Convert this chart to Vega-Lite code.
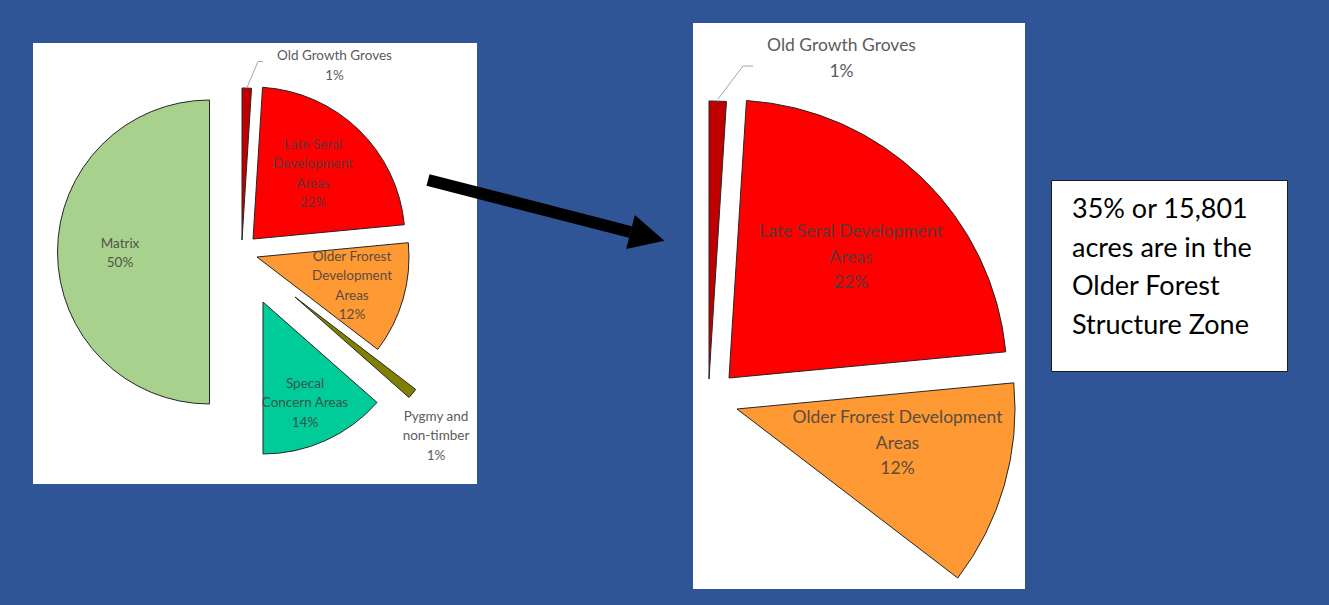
{
  "$schema": "https://vega.github.io/schema/vega-lite/v6.json",
  "background": "#2F5597",
  "padding": {"left": 33, "top": 23, "right": 41, "bottom": 16},
  "autosize": {"type": "pad"},
  "config": {"view": {"stroke": null}, "text": {"font": "Lato"}},
  "datasets": {
    "slices": [
      {"name": "Old Growth Groves", "ord": 1, "pct": 1.0, "lab": "Old Growth Groves\n1%", "labMid": "Old Growth Groves\n1%"},
      {"name": "Late Seral Development Areas", "ord": 2, "pct": 22.5, "lab": "Late Seral\nDevelopment\nAreas\n22%", "labMid": "Late Seral Development\nAreas\n22%"},
      {"name": "Older Forest Development Areas", "ord": 3, "pct": 11.9, "lab": "Older Frorest\nDevelopment\nAreas\n12%", "labMid": "Older Frorest Development\nAreas\n12%"},
      {"name": "Pygmy and non-timber", "ord": 4, "pct": 1.1, "lab": "Pygmy and\nnon-timber\n1%", "labMid": ""},
      {"name": "Special Concern Areas", "ord": 5, "pct": 13.5, "lab": "Specal\nConcern Areas\n14%", "labMid": ""},
      {"name": "Matrix", "ord": 6, "pct": 50.0, "lab": "Matrix\n50%", "labMid": ""}
    ]
  },
  "align": "none",
  "bounds": "full",
  "spacing": -55,
  "hconcat": [
    {
      "align": "none", "bounds": "flush", "spacing": 0,
      "vconcat": [
        {"width": 444, "height": 20, "data": {"values": []}, "mark": "rect", "encoding": {}},
        {
          "width": 444, "height": 441,
          "view": {"fill": "white", "stroke": null},
          "data": {"name": "slices"},
          "layer": [
            {"transform": [{"stack": "pct", "groupby": [], "sort": [{"field": "ord", "order": "ascending"}], "as": ["a0", "a1"]}, {"filter": "datum.name === 'Old Growth Groves'"}],
             "mark": {"type": "arc", "radius": 152, "xOffset": -13, "yOffset": -23.5, "stroke": "#262626", "strokeWidth": 1},
             "encoding": {"theta": {"field": "a0", "type": "quantitative", "scale": {"domain": [0, 100]}}, "theta2": {"field": "a1"},
               "color": {"field": "name", "type": "nominal", "scale": {"domain": ["Old Growth Groves", "Late Seral Development Areas", "Older Forest Development Areas", "Pygmy and non-timber", "Special Concern Areas", "Matrix"], "range": ["#C00000", "#FF0000", "#FF9933", "#808000", "#00CC99", "#A9D18E"]}, "legend": null}}},
            {"transform": [{"stack": "pct", "groupby": [], "sort": [{"field": "ord", "order": "ascending"}], "as": ["a0", "a1"]}, {"filter": "datum.name === 'Late Seral Development Areas'"}],
             "mark": {"type": "arc", "radius": 152, "xOffset": -2, "yOffset": -24.5, "stroke": "#262626", "strokeWidth": 1},
             "encoding": {"theta": {"field": "a0", "type": "quantitative", "scale": {"domain": [0, 100]}}, "theta2": {"field": "a1"},
               "color": {"field": "name", "type": "nominal", "scale": {"domain": ["Old Growth Groves", "Late Seral Development Areas", "Older Forest Development Areas", "Pygmy and non-timber", "Special Concern Areas", "Matrix"], "range": ["#C00000", "#FF0000", "#FF9933", "#808000", "#00CC99", "#A9D18E"]}, "legend": null}}},
            {"transform": [{"stack": "pct", "groupby": [], "sort": [{"field": "ord", "order": "ascending"}], "as": ["a0", "a1"]}, {"filter": "datum.name === 'Older Forest Development Areas'"}],
             "mark": {"type": "arc", "radius": 152, "xOffset": 2, "yOffset": -6.5, "stroke": "#262626", "strokeWidth": 1},
             "encoding": {"theta": {"field": "a0", "type": "quantitative", "scale": {"domain": [0, 100]}}, "theta2": {"field": "a1"},
               "color": {"field": "name", "type": "nominal", "scale": {"domain": ["Old Growth Groves", "Late Seral Development Areas", "Older Forest Development Areas", "Pygmy and non-timber", "Special Concern Areas", "Matrix"], "range": ["#C00000", "#FF0000", "#FF9933", "#808000", "#00CC99", "#A9D18E"]}, "legend": null}}},
            {"transform": [{"stack": "pct", "groupby": [], "sort": [{"field": "ord", "order": "ascending"}], "as": ["a0", "a1"]}, {"filter": "datum.name === 'Pygmy and non-timber'"}],
             "mark": {"type": "arc", "radius": 152, "xOffset": 40, "yOffset": 33.5, "stroke": "#262626", "strokeWidth": 1},
             "encoding": {"theta": {"field": "a0", "type": "quantitative", "scale": {"domain": [0, 100]}}, "theta2": {"field": "a1"},
               "color": {"field": "name", "type": "nominal", "scale": {"domain": ["Old Growth Groves", "Late Seral Development Areas", "Older Forest Development Areas", "Pygmy and non-timber", "Special Concern Areas", "Matrix"], "range": ["#C00000", "#FF0000", "#FF9933", "#808000", "#00CC99", "#A9D18E"]}, "legend": null}}},
            {"transform": [{"stack": "pct", "groupby": [], "sort": [{"field": "ord", "order": "ascending"}], "as": ["a0", "a1"]}, {"filter": "datum.name === 'Special Concern Areas'"}],
             "mark": {"type": "arc", "radius": 152, "xOffset": 8, "yOffset": 38.5, "stroke": "#262626", "strokeWidth": 1},
             "encoding": {"theta": {"field": "a0", "type": "quantitative", "scale": {"domain": [0, 100]}}, "theta2": {"field": "a1"},
               "color": {"field": "name", "type": "nominal", "scale": {"domain": ["Old Growth Groves", "Late Seral Development Areas", "Older Forest Development Areas", "Pygmy and non-timber", "Special Concern Areas", "Matrix"], "range": ["#C00000", "#FF0000", "#FF9933", "#808000", "#00CC99", "#A9D18E"]}, "legend": null}}},
            {"transform": [{"stack": "pct", "groupby": [], "sort": [{"field": "ord", "order": "ascending"}], "as": ["a0", "a1"]}, {"filter": "datum.name === 'Matrix'"}],
             "mark": {"type": "arc", "radius": 152, "xOffset": -45.5, "yOffset": -11.5, "stroke": "#262626", "strokeWidth": 1},
             "encoding": {"theta": {"field": "a0", "type": "quantitative", "scale": {"domain": [0, 100]}}, "theta2": {"field": "a1"},
               "color": {"field": "name", "type": "nominal", "scale": {"domain": ["Old Growth Groves", "Late Seral Development Areas", "Older Forest Development Areas", "Pygmy and non-timber", "Special Concern Areas", "Matrix"], "range": ["#C00000", "#FF0000", "#FF9933", "#808000", "#00CC99", "#A9D18E"]}, "legend": null}}},
            {"transform": [{"filter": "datum.name === 'Old Growth Groves'"}],
             "mark": {"type": "point", "shape": "M0,0L11,-26L16,-26", "size": 4, "filled": false, "stroke": "#A6A6A6", "strokeWidth": 1, "opacity": 1, "xOffset": -8, "yOffset": -176},
             "encoding": {}},
            {"transform": [{"filter": "datum.name === 'Old Growth Groves'"}],
             "mark": {"type": "text", "dx": 79.5, "dy": -207.5, "fontSize": 13.5, "lineHeight": 19.5, "lineBreak": "\n", "color": "#404040", "opacity": 0.85, "align": "center", "baseline": "middle"},
             "encoding": {"text": {"field": "lab"}}},
            {"transform": [{"filter": "datum.name === 'Late Seral Development Areas'"}],
             "mark": {"type": "text", "dx": 58, "dy": -119, "fontSize": 13.5, "lineHeight": 19.5, "lineBreak": "\n", "color": "#404040", "opacity": 0.85, "align": "center", "baseline": "middle"},
             "encoding": {"text": {"field": "lab"}}},
            {"transform": [{"filter": "datum.name === 'Older Forest Development Areas'"}],
             "mark": {"type": "text", "dx": 97, "dy": -7, "fontSize": 13.5, "lineHeight": 19.5, "lineBreak": "\n", "color": "#404040", "opacity": 0.85, "align": "center", "baseline": "middle"},
             "encoding": {"text": {"field": "lab"}}},
            {"transform": [{"filter": "datum.name === 'Pygmy and non-timber'"}],
             "mark": {"type": "text", "dx": 181, "dy": 153, "fontSize": 13.5, "lineHeight": 19.5, "lineBreak": "\n", "color": "#404040", "opacity": 0.85, "align": "center", "baseline": "middle"},
             "encoding": {"text": {"field": "lab"}}},
            {"transform": [{"filter": "datum.name === 'Special Concern Areas'"}],
             "mark": {"type": "text", "dx": 50, "dy": 120, "fontSize": 13.5, "lineHeight": 19.5, "lineBreak": "\n", "color": "#404040", "opacity": 0.85, "align": "center", "baseline": "middle"},
             "encoding": {"text": {"field": "lab"}}},
            {"transform": [{"filter": "datum.name === 'Matrix'"}],
             "mark": {"type": "text", "dx": -135, "dy": -20, "fontSize": 13.5, "lineHeight": 19.5, "lineBreak": "\n", "color": "#404040", "opacity": 0.85, "align": "center", "baseline": "middle"},
             "encoding": {"text": {"field": "lab"}}}
          ]
        }
      ]
    },
    {
      "align": "none", "bounds": "flush", "spacing": 0,
      "vconcat": [
        {"width": 250, "height": 157, "data": {"values": []}, "mark": "rect", "encoding": {}},
        {
          "width": 202.5, "height": 52,
          "data": {"values": [{"arrow": "zoom to Older Forest Structure Zone"}]},
          "layer": [
            {"mark": {"type": "rule", "color": "black", "strokeWidth": 12, "strokeCap": "butt"},
             "encoding": {"x": {"value": 0}, "x2": {"value": "width"}, "y": {"value": 0}, "y2": {"value": "height"}}},
            {"mark": {"type": "point", "shape": "M0,-1L2,0L0,1Z", "size": 1225, "filled": true, "color": "black", "opacity": 1, "angle": 14.4},
             "encoding": {"x": {"value": "width"}, "y": {"value": "height"}}}
          ]
        }
      ]
    },
    {"width": 125, "height": 10, "data": {"values": []}, "mark": "rect", "encoding": {}},
    {
      "width": 332, "height": 566,
      "view": {"fill": "white", "stroke": null},
      "data": {"name": "slices"},
      "layer": [
        {"transform": [{"stack": "pct", "groupby": [], "sort": [{"field": "ord", "order": "ascending"}], "as": ["a0", "a1"]}, {"filter": "datum.name === 'Old Growth Groves'"}],
         "mark": {"type": "arc", "radius": 278, "xOffset": -150, "yOffset": 73, "stroke": "#262626", "strokeWidth": 1},
         "encoding": {"theta": {"field": "a0", "type": "quantitative", "scale": {"domain": [0, 100]}}, "theta2": {"field": "a1"},
           "color": {"field": "name", "type": "nominal", "scale": {"domain": ["Old Growth Groves", "Late Seral Development Areas", "Older Forest Development Areas", "Pygmy and non-timber", "Special Concern Areas", "Matrix"], "range": ["#C00000", "#FF0000", "#FF9933", "#808000", "#00CC99", "#A9D18E"]}, "legend": null}}},
        {"transform": [{"stack": "pct", "groupby": [], "sort": [{"field": "ord", "order": "ascending"}], "as": ["a0", "a1"]}, {"filter": "datum.name === 'Late Seral Development Areas'"}],
         "mark": {"type": "arc", "radius": 278, "xOffset": -130, "yOffset": 72, "stroke": "#262626", "strokeWidth": 1},
         "encoding": {"theta": {"field": "a0", "type": "quantitative", "scale": {"domain": [0, 100]}}, "theta2": {"field": "a1"},
           "color": {"field": "name", "type": "nominal", "scale": {"domain": ["Old Growth Groves", "Late Seral Development Areas", "Older Forest Development Areas", "Pygmy and non-timber", "Special Concern Areas", "Matrix"], "range": ["#C00000", "#FF0000", "#FF9933", "#808000", "#00CC99", "#A9D18E"]}, "legend": null}}},
        {"transform": [{"stack": "pct", "groupby": [], "sort": [{"field": "ord", "order": "ascending"}], "as": ["a0", "a1"]}, {"filter": "datum.name === 'Older Forest Development Areas'"}],
         "mark": {"type": "arc", "radius": 278, "xOffset": -122, "yOffset": 103, "stroke": "#262626", "strokeWidth": 1},
         "encoding": {"theta": {"field": "a0", "type": "quantitative", "scale": {"domain": [0, 100]}}, "theta2": {"field": "a1"},
           "color": {"field": "name", "type": "nominal", "scale": {"domain": ["Old Growth Groves", "Late Seral Development Areas", "Older Forest Development Areas", "Pygmy and non-timber", "Special Concern Areas", "Matrix"], "range": ["#C00000", "#FF0000", "#FF9933", "#808000", "#00CC99", "#A9D18E"]}, "legend": null}}},
        {"transform": [{"filter": "datum.name === 'Old Growth Groves'"}],
         "mark": {"type": "point", "shape": "M0,0L25,-33L35,-33", "size": 4, "filled": false, "stroke": "#A6A6A6", "strokeWidth": 1, "opacity": 1, "xOffset": -141, "yOffset": -207},
         "encoding": {}},
        {"transform": [{"filter": "datum.name === 'Old Growth Groves'"}],
         "mark": {"type": "text", "dx": -17.5, "dy": -260, "fontSize": 17.5, "lineHeight": 25.5, "lineBreak": "\n", "color": "#404040", "opacity": 0.85, "align": "center", "baseline": "middle"},
         "encoding": {"text": {"field": "labMid"}}},
        {"transform": [{"filter": "datum.name === 'Late Seral Development Areas'"}],
         "mark": {"type": "text", "dx": -8, "dy": -74, "fontSize": 17.5, "lineHeight": 25.5, "lineBreak": "\n", "color": "#404040", "opacity": 0.85, "align": "center", "baseline": "middle"},
         "encoding": {"text": {"field": "labMid"}}},
        {"transform": [{"filter": "datum.name === 'Older Forest Development Areas'"}],
         "mark": {"type": "text", "dx": 38.5, "dy": 112, "fontSize": 17.5, "lineHeight": 25.5, "lineBreak": "\n", "color": "#404040", "opacity": 0.85, "align": "center", "baseline": "middle"},
         "encoding": {"text": {"field": "labMid"}}}
      ]
    },
    {"width": 135, "height": 10, "data": {"values": []}, "mark": "rect", "encoding": {}},
    {
      "align": "none", "bounds": "flush", "spacing": 0,
      "vconcat": [
        {"width": 236, "height": 157, "data": {"values": []}, "mark": "rect", "encoding": {}},
        {
          "width": 236, "height": 191,
          "view": {"fill": "white", "stroke": "#1a1a1a", "strokeWidth": 1},
          "data": {"values": [{"note": "35% or 15,801\nacres are in the\nOlder Forest\nStructure Zone"}]},
          "mark": {"type": "text", "align": "left", "baseline": "middle", "dx": -97, "dy": -65.5, "fontSize": 27, "lineHeight": 38.5, "lineBreak": "\n", "color": "black"},
          "encoding": {"text": {"field": "note"}}
        }
      ]
    }
  ]
}
